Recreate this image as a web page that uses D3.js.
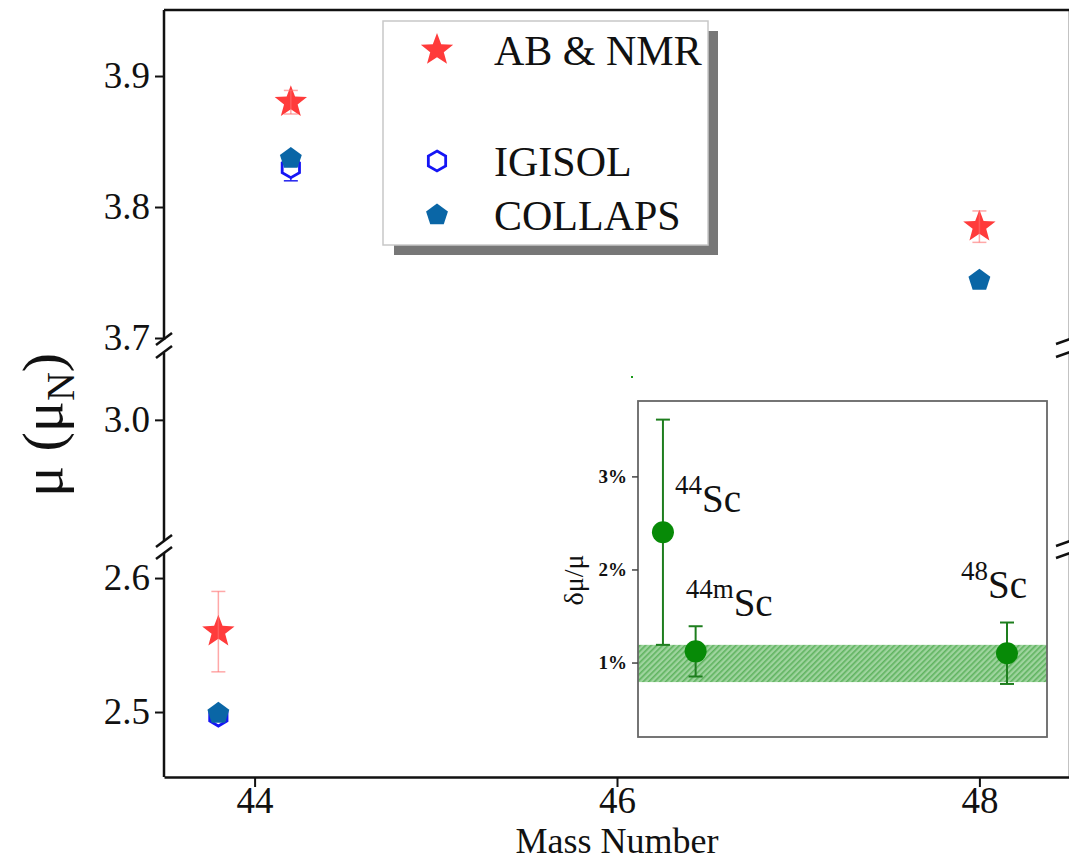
<!DOCTYPE html>
<meta charset="utf-8">
<body style="margin:0;background:#fff">
<script src="https://cdn.jsdelivr.net/npm/d3@7/dist/d3.min.js"></script>
<script>
// main panel data
var abMass = [44.2, 43.8, 48.0];        // AB & NMR
var abMu = [3.880, 2.560, 3.785];
var abErr = [0.009, 0.030, 0.012];
var igMass = [44.2, 43.8];              // IGISOL
var igMu = [3.830, 2.497];
var igErr = [0.010, 0.002];
var coMass = [44.2, 43.8, 48.0];        // COLLAPS
var coMu = [3.837, 2.499, 3.744];
var xTicks = [44, 46, 48];
var legendNames = ['AB & NMR', 'IGISOL', 'COLLAPS'];

// inset data (dmu/mu in %)
var insetMass = ['44', '44m', '48'];
var insetX = [44, 44.38, 48];
var insetVal = [2.40, 1.12, 1.10];
var insetErr = [1.21, 0.27, 0.33];
var insetTicks = [1, 2, 3];
var bandLo = 0.79, bandHi = 1.19;

var W = 1069, H = 863;
var serif = '"Liberation Serif", "Times New Roman", serif';
var svg = d3.select('body').append('svg').attr('width', W).attr('height', H)
  .style('font-family', serif);

var x = d3.scaleLinear().domain([43.5, 48.5]).range([164, 1070]);

// broken y axis: three pieces
var segs = [
  {y: d3.scaleLinear().domain([3.7, 3.9504]).range([338, 10]), ticks: [3.7, 3.8, 3.9], top: 10, bot: 340},
  {y: d3.scaleLinear().domain([2.903, 3.051]).range([547, 353]), ticks: [3.0], top: 353, bot: 541},
  {y: d3.scaleLinear().domain([2.4515, 2.6187]).range([777, 553]), ticks: [2.5, 2.6], top: 553, bot: 777}
];
function yv(v) {
  for (var i = 0; i < segs.length; i++) {
    var d = segs[i].y.domain();
    if (v >= d[0] - 0.05 && v <= d[1] + 0.05) return segs[i].y(v);
  }
}

// frame
svg.append('line').attr('x1', 164).attr('x2', W).attr('y1', 10).attr('y2', 10)
  .attr('stroke', '#111').attr('stroke-width', 2.5);

// x axis
var gx = svg.append('g').attr('transform', 'translate(0,777)')
  .call(d3.axisBottom(x).tickValues(xTicks).tickSize(10).tickSizeOuter(0).tickFormat(d3.format('d')));
gx.attr('font-family', serif);
gx.select('.domain').attr('stroke', '#111').attr('stroke-width', 2.5);
gx.selectAll('.tick line').attr('stroke', '#111').attr('stroke-width', 2);
gx.selectAll('.tick text').attr('font-size', 37).attr('fill', '#111').attr('y', 36).attr('dy', 0);
svg.append('text').attr('x', 617).attr('y', 853).attr('text-anchor', 'middle')
  .attr('font-size', 36).attr('fill', '#111').text('Mass Number');

// y axis pieces, left and right
segs.forEach(function (s) {
  var g = svg.append('g').attr('transform', 'translate(164,0)')
    .call(d3.axisLeft(s.y).tickValues(s.ticks).tickSize(9).tickFormat(d3.format('.1f')));
  g.attr('font-family', serif);
  g.select('.domain').remove();
  g.selectAll('.tick line').attr('stroke', '#111').attr('stroke-width', 2);
  g.selectAll('.tick text').attr('font-size', 37).attr('fill', '#111').attr('x', -14);
  [164, 1070].forEach(function (ax) {
    svg.append('line').attr('x1', ax).attr('x2', ax).attr('y1', s.top).attr('y2', s.bot)
      .attr('stroke', '#111').attr('stroke-width', 2.5);
  });
});
// break marks
[339, 352, 541, 553].forEach(function (by) {
  svg.append('line').attr('x1', 156).attr('x2', 172).attr('y1', by + 6).attr('y2', by - 6)
    .attr('stroke', '#111').attr('stroke-width', 2.5);
  svg.append('line').attr('x1', 1056).attr('x2', 1084).attr('y1', by + 5).attr('y2', by - 5)
    .attr('stroke', '#111').attr('stroke-width', 2.5);
});

// y label
var yl = svg.append('text').attr('transform', 'translate(62,425) rotate(-90)')
  .attr('text-anchor', 'middle').attr('font-size', 58).attr('fill', '#111');
yl.append('tspan').text('\u03bc (\u03bc');
yl.append('tspan').attr('font-size', 40).attr('dy', 12).text('N');
yl.append('tspan').attr('dy', -12).text(')');

// marker shapes
function star(r) {
  var p = [];
  for (var i = 0; i < 10; i++) {
    var a = -Math.PI / 2 + i * Math.PI / 5, rr = i % 2 ? r * 0.42 : r;
    p.push([rr * Math.cos(a), rr * Math.sin(a)]);
  }
  return 'M' + p.join('L') + 'Z';
}
function poly(n, r, rot) {
  var p = [];
  for (var i = 0; i < n; i++) {
    var a = rot + i * 2 * Math.PI / n;
    p.push([r * Math.cos(a), r * Math.sin(a)]);
  }
  return 'M' + p.join('L') + 'Z';
}
var starPath = star(17), hexPath = poly(6, 10, -Math.PI / 2), pentPath = poly(5, 11.5, -Math.PI / 2);

function errbar(g, cx, v, e, col, w) {
  g.append('line').attr('x1', cx).attr('x2', cx).attr('y1', yv(v - e)).attr('y2', yv(v + e))
    .attr('stroke', col).attr('stroke-width', w);
  [v - e, v + e].forEach(function (t) {
    g.append('line').attr('x1', cx - 7).attr('x2', cx + 7).attr('y1', yv(t)).attr('y2', yv(t))
      .attr('stroke', col).attr('stroke-width', w);
  });
}

var pts = svg.append('g');
igMass.forEach(function (m, i) {
  errbar(pts, x(m), igMu[i], igErr[i], '#2222ee', 1.5);
  pts.append('path').attr('d', hexPath).attr('transform', 'translate(' + x(m) + ',' + yv(igMu[i]) + ')')
    .attr('fill', 'white').attr('stroke', '#1515f5').attr('stroke-width', 2.8);
});
coMass.forEach(function (m, i) {
  pts.append('path').attr('d', pentPath).attr('transform', 'translate(' + x(m) + ',' + yv(coMu[i]) + ')')
    .attr('fill', '#0a66a6');
});
abMass.forEach(function (m, i) {
  pts.append('path').attr('d', starPath).attr('transform', 'translate(' + x(m) + ',' + yv(abMu[i]) + ')')
    .attr('fill', '#ff3b3b');
  errbar(pts, x(m), abMu[i], abErr[i], 'rgba(255,110,110,0.6)', 1.5);
});

// legend
var lg = svg.append('g');
lg.append('rect').attr('x', 394).attr('y', 31).attr('width', 324).attr('height', 224).attr('fill', '#777');
lg.append('rect').attr('x', 383).attr('y', 21).attr('width', 325).attr('height', 224)
  .attr('fill', 'white').attr('stroke', '#c8c8c8').attr('stroke-width', 1.5);
var legY = [50, 161, 215];
var legShape = [starPath, hexPath, pentPath];
legendNames.forEach(function (n, i) {
  var p = lg.append('path').attr('d', legShape[i]).attr('transform', 'translate(437,' + legY[i] + ')');
  if (i === 0) p.attr('fill', '#ff3b3b');
  if (i === 1) p.attr('fill', 'white').attr('stroke', '#1515f5').attr('stroke-width', 2.8);
  if (i === 2) p.attr('fill', '#0a66a6');
  lg.append('text').attr('x', 494).attr('y', legY[i] + 15).attr('font-size', 42).attr('fill', '#111').text(n);
});

// inset
var ix = d3.scaleLinear().domain([43.71, 48.465]).range([638, 1047]);
var iy = d3.scaleLinear().domain([0.20, 3.81]).range([737, 401]);
var ins = svg.append('g');
var pat = svg.append('defs').append('pattern').attr('id', 'hatch').attr('patternUnits', 'userSpaceOnUse')
  .attr('width', 4).attr('height', 4).attr('patternTransform', 'rotate(45)');
pat.append('rect').attr('width', 4).attr('height', 4).attr('fill', '#9ed49e');
pat.append('rect').attr('width', 1.6).attr('height', 4).attr('fill', '#5fb35f');
ins.append('rect').attr('x', 638).attr('y', iy(bandHi)).attr('width', 1047 - 638)
  .attr('height', iy(bandLo) - iy(bandHi)).attr('fill', 'url(#hatch)');
ins.append('rect').attr('x', 638).attr('y', 401).attr('width', 1047 - 638).attr('height', 336)
  .attr('fill', 'none').attr('stroke', '#666').attr('stroke-width', 1.8);
var giy = ins.append('g').attr('transform', 'translate(638,0)')
  .call(d3.axisLeft(iy).tickValues(insetTicks).tickSize(6).tickFormat(function (d) { return d + '%'; }));
giy.attr('font-family', serif);
giy.select('.domain').remove();
giy.selectAll('.tick line').attr('stroke', '#444').attr('stroke-width', 1.5);
giy.selectAll('.tick text').attr('font-size', 19).attr('font-weight', 'bold').attr('fill', '#111').attr('x', -11);
ins.append('text').attr('transform', 'translate(583,580) rotate(-90)').attr('text-anchor', 'middle')
  .attr('font-size', 28).attr('fill', '#111').text('\u03b4\u03bc/\u03bc');

var labOff = [[12, -20], [-10, -35], [-46, -55]];
insetX.forEach(function (m, i) {
  var cx = ix(m);
  ins.append('line').attr('x1', cx).attr('x2', cx).attr('y1', iy(insetVal[i] - insetErr[i])).attr('y2', iy(insetVal[i] + insetErr[i]))
    .attr('stroke', '#1e7e1e').attr('stroke-width', 2);
  [insetVal[i] - insetErr[i], insetVal[i] + insetErr[i]].forEach(function (t) {
    ins.append('line').attr('x1', cx - 7).attr('x2', cx + 7).attr('y1', iy(t)).attr('y2', iy(t))
      .attr('stroke', '#1e7e1e').attr('stroke-width', 2);
  });
  ins.append('circle').attr('cx', cx).attr('cy', iy(insetVal[i])).attr('r', 11).attr('fill', '#078a07');
  var t = ins.append('text').attr('x', cx + labOff[i][0]).attr('y', iy(insetVal[i]) + labOff[i][1])
    .attr('font-size', 39).attr('fill', '#111');
  t.append('tspan').attr('font-size', 27).attr('dy', -18).text(insetMass[i]);
  t.append('tspan').attr('dy', 18).text('Sc');
});
ins.append('rect').attr('x', 631).attr('y', 376).attr('width', 2).attr('height', 2).attr('fill', '#1a9a1a');
</script>
</body>
